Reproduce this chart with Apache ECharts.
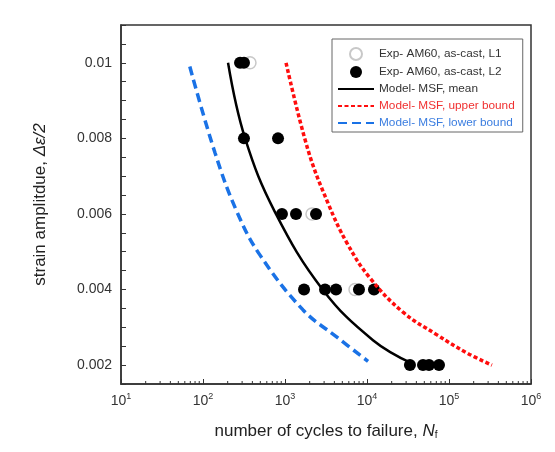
<!DOCTYPE html>
<html lang="en">
<head>
    <meta charset="UTF-8">
    <title>chart</title>
    <script src="https://cdn.jsdelivr.net/npm/echarts@6/dist/echarts.min.js"></script>
    <style>
        html, body {
            margin: 0;
            height: 100%;
            background: #fff;
        }
        #app {
            width: 555px;
            height: 452px;
        }
    </style>
</head>
<body>
<div id="app"></div>
<script>
    // experimental points [cycles, strain amplitude]
    var expL1 = [[374, 0.01], [2133, 0.006], [7140, 0.004]];
    var expL2 = [
        [283, 0.01], [316, 0.01],
        [316, 0.008], [822, 0.008],
        [918, 0.006], [1361, 0.006], [2390, 0.006],
        [1706, 0.004], [3076, 0.004], [4190, 0.004], [7985, 0.004], [12170, 0.004],
        [33400, 0.002], [48200, 0.002], [57000, 0.002], [75500, 0.002]
    ];
    // model curves
    var meanCurve = [
        [202, 0.01], [325, 0.00801], [755, 0.00605], [2904, 0.00399],
        [11830, 0.00266], [36400, 0.00203]
    ];
    var upperCurve = [
        [1030, 0.01], [1905, 0.0077], [3340, 0.00629], [5700, 0.00523], [10900, 0.0043],
        [27500, 0.0034], [71400, 0.0028], [166000, 0.00232], [334000, 0.002]
    ];
    var lowerCurve = [
        [69, 0.0099], [140, 0.00762], [260, 0.00605], [496, 0.00491],
        [1660, 0.00346], [4300, 0.00274], [10300, 0.0021]
    ];
    var yLabels = [0.002, 0.004, 0.006, 0.008, 0.01];
    var decades = [10, 100, 1000, 10000, 100000];
    var minorSteps = [2, 3, 4, 5, 6, 7, 8, 9];

    var yMin = 0.0015, yMax = 0.011;
    var font = 'Liberation Sans, Arial, sans-serif';

    var minorX = [];
    for (var i = 0; i < decades.length; i++) {
        for (var j = 0; j < minorSteps.length; j++) {
            minorX.push([decades[i] * minorSteps[j], yMin]);
        }
    }

    var noSymbol = {opacity: 0};

    var option = {
        animation: false,
        textStyle: {fontFamily: font},
        grid: {
            left: 121, right: 24, top: 25, bottom: 68,
            show: true, borderColor: '#333', borderWidth: 1.5
        },
        legend: {
            orient: 'vertical',
            left: 332, top: 39,
            padding: [8, 8, 3, 5],
            itemGap: 5,
            itemWidth: 36,
            itemHeight: 12,
            borderColor: '#666',
            borderWidth: 1,
            backgroundColor: '#fff',
            textStyle: {fontSize: 11.8, color: '#333', fontFamily: font},
            data: [
                {name: 'Exp- AM60, as-cast, L1'},
                {name: 'Exp- AM60, as-cast, L2'},
                {name: 'Model- MSF, mean', itemStyle: noSymbol},
                {name: 'Model- MSF, upper bound', itemStyle: noSymbol, textStyle: {color: '#f03030'}},
                {name: 'Model- MSF, lower bound', itemStyle: noSymbol, textStyle: {color: '#3a7de0'}}
            ]
        },
        xAxis: {
            type: 'log',
            logBase: 10,
            min: 10,
            max: 1000000,
            name: 'number of cycles to failure, {i|N}{sub|f}',
            nameLocation: 'middle',
            nameGap: 38,
            nameTextStyle: {
                fontSize: 17, color: '#222',
                rich: {
                    i: {fontSize: 17, fontStyle: 'italic', color: '#222'},
                    sub: {fontSize: 10, color: '#222', verticalAlign: 'bottom', padding: [8, 0, 0, 0]}
                }
            },
            axisLine: {lineStyle: {color: '#333', width: 1.5}},
            axisTick: {inside: true, length: 5, lineStyle: {color: '#333'}},
            splitLine: {show: false},
            axisLabel: {
                margin: 8,
                color: '#333',
                fontSize: 14,
                formatter: function (v) {
                    return '{b|10}{s|' + Math.round(Math.log10(v)) + '}';
                },
                rich: {
                    b: {fontSize: 14, color: '#333', lineHeight: 18},
                    s: {fontSize: 9, color: '#333', verticalAlign: 'top', lineHeight: 18, padding: [0, 0, 8, 0]}
                }
            }
        },
        yAxis: {
            type: 'value',
            min: yMin,
            max: yMax,
            interval: 0.0005,
            name: 'strain amplitdue, {i|Δε/2}',
            nameLocation: 'middle',
            nameGap: 72,
            nameRotate: 90,
            nameTextStyle: {
                fontSize: 17, color: '#222',
                rich: {i: {fontSize: 17, fontStyle: 'italic', color: '#222'}}
            },
            axisLine: {lineStyle: {color: '#333', width: 1.5}},
            axisTick: {inside: true, length: 5, lineStyle: {color: '#333'}},
            splitLine: {show: false},
            axisLabel: {
                margin: 9,
                color: '#333',
                fontSize: 14,
                formatter: function (v) {
                    for (var k = 0; k < yLabels.length; k++) {
                        if (Math.abs(v - yLabels[k]) < 1e-9) return String(yLabels[k]);
                    }
                    return '';
                }
            }
        },
        series: [
            {
                type: 'custom',
                silent: true,
                clip: false,
                data: minorX,
                renderItem: function (params, api) {
                    var p = api.coord([api.value(0), yMin]);
                    return {
                        type: 'line',
                        shape: {x1: p[0], y1: p[1], x2: p[0], y2: p[1] - 3},
                        style: {stroke: '#333', lineWidth: 1}
                    };
                }
            },
            {
                name: 'Model- MSF, mean',
                type: 'line',
                symbol: 'none',
                smooth: 0.4,
                data: meanCurve,
                lineStyle: {color: '#000', width: 2.5},
                itemStyle: {color: '#000'}
            },
            {
                name: 'Model- MSF, upper bound',
                type: 'line',
                symbol: 'none',
                smooth: 0.4,
                data: upperCurve,
                lineStyle: {color: '#ff0d0d', width: 3.5, type: [4, 2.5]},
                itemStyle: {color: '#ff0d0d'}
            },
            {
                name: 'Model- MSF, lower bound',
                type: 'line',
                symbol: 'none',
                smooth: 0.4,
                data: lowerCurve,
                lineStyle: {color: '#1a72e6', width: 3.5, type: [9, 5]},
                itemStyle: {color: '#1a72e6'}
            },
            {
                name: 'Exp- AM60, as-cast, L1',
                type: 'scatter',
                symbol: 'circle',
                symbolSize: 12,
                data: expL1,
                itemStyle: {color: '#fff', borderColor: '#c8c8c8', borderWidth: 1.5, opacity: 1}
            },
            {
                name: 'Exp- AM60, as-cast, L2',
                type: 'scatter',
                symbol: 'circle',
                symbolSize: 12,
                data: expL2,
                itemStyle: {color: '#000', opacity: 1}
            }
        ]
    };

    var myChart = echarts.init(document.getElementById('app'));
    myChart.setOption(option);
</script>
</body>
</html>
